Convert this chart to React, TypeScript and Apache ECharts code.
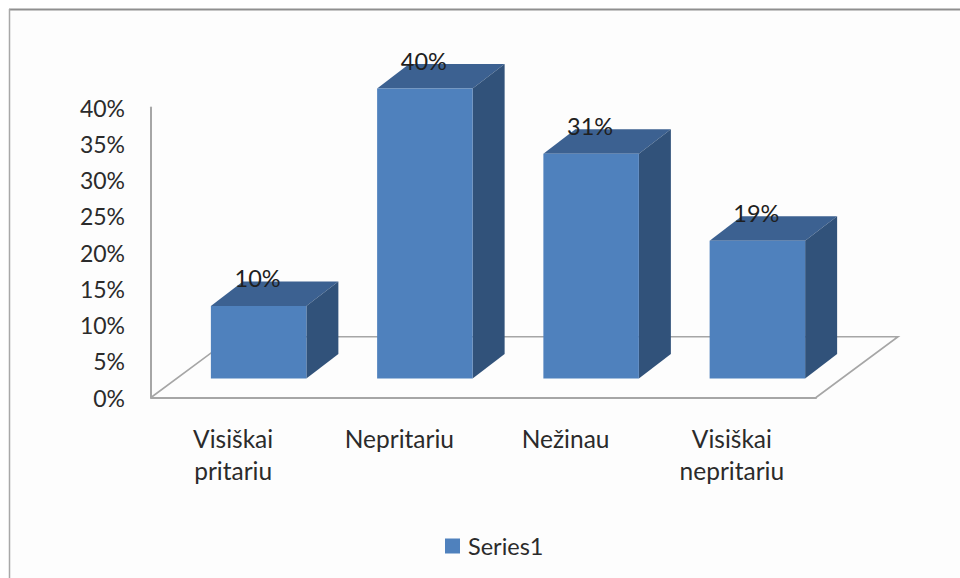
import React, { useEffect, useRef } from "react";
import * as echarts from "echarts";

const categories = ["Visiškai\npritariu", "Nepritariu", "Nežinau", "Visiškai\nnepritariu"];
const values = [10, 40, 31, 19];
const yTicks = { min: 0, max: 40, interval: 5 };
const seriesName = "Series1";

const FONT = "Lato";
const TEXT = "#2b2b2b";
const AXIS = "#a6a6a6";
const FRONT = "#4f81bd";
const TOP = "#3c6191";
const SIDE = "#31527a";

function renderBar(params: any, api: any) {
  const i = api.value(0);
  const v = api.value(1);
  const top = api.coord([i, v]);
  const base = api.coord([i, 0]);
  const w = 95.5;
  const lift = 19;
  const dx = 32;
  const dy = 24.5;
  const x0 = top[0] + 24.5 - w / 2;
  const x1 = x0 + w;
  const yT = top[1] - lift;
  const yB = base[1] - lift;
  return {
    type: "group",
    children: [
      {
        type: "polygon",
        shape: { points: [[x0, yT], [x1, yT], [x1 + dx, yT - dy], [x0 + dx, yT - dy]] },
        style: { fill: TOP },
      },
      {
        type: "polygon",
        shape: { points: [[x1, yT], [x1 + dx, yT - dy], [x1 + dx, yB - dy], [x1, yB]] },
        style: { fill: SIDE },
      },
      {
        type: "rect",
        shape: { x: x0, y: yT, width: w, height: yB - yT },
        style: { fill: FRONT },
      },
      {
        type: "text",
        x: x0 + w / 2 - 1,
        y: yT - 28,
        style: {
          text: v + "%",
          fill: "#1f1f1f",
          font: `23.5px ${FONT}`,
          align: "center",
          verticalAlign: "middle",
        },
      },
    ],
  };
}

export default function App() {
  const ref = useRef<HTMLDivElement>(null);
  useEffect(() => {
    const chart = echarts.init(ref.current!, null, { renderer: "svg" });
    chart.setOption({
      animation: false,
      backgroundColor: "#ffffff",
      textStyle: { fontFamily: FONT },
      grid: { left: 151, top: 107.5, width: 665, height: 290, containLabel: false },
      legend: {
        show: true,
        left: 440,
        top: 529,
        icon: "rect",
        itemWidth: 15,
        itemHeight: 15,
        itemGap: 6,
        textStyle: { fontFamily: FONT, fontSize: 23.5, color: TEXT, padding: [0, 0, 3, 3] },
        data: [seriesName],
      },
      xAxis: {
        type: "category",
        data: categories,
        boundaryGap: true,
        axisTick: { show: false },
        axisLine: { show: true, lineStyle: { color: AXIS, width: 2 } },
        axisLabel: {
          interval: 0,
          margin: 25,
          fontFamily: FONT,
          fontSize: 24.5,
          color: TEXT,
          lineHeight: 32,
          verticalAlign: "top",
          padding: [0, 2, 0, 0],
        },
      },
      yAxis: {
        type: "value",
        min: yTicks.min,
        max: yTicks.max,
        interval: yTicks.interval,
        splitLine: { show: false },
        axisTick: { show: false },
        axisLine: { show: true, onZero: false, lineStyle: { color: AXIS, width: 2 } },
        axisLabel: {
          margin: 26,
          fontFamily: FONT,
          fontSize: 23,
          color: TEXT,
          formatter: "{value}%",
        },
      },
      graphic: [
        {
          type: "rect",
          z: -10,
          shape: { x: 10, y: 10, width: 950, height: 568 },
          style: { fill: "#fdfdfd" },
        },
        {
          type: "line",
          z: -9,
          shape: { x1: 9, y1: 9.5, x2: 960, y2: 9.5 },
          style: { stroke: "#8f8f8f", lineWidth: 2 },
        },
        {
          type: "line",
          z: -9,
          shape: { x1: 9.5, y1: 9, x2: 9.5, y2: 578 },
          style: { stroke: "#a8a8a8", lineWidth: 1.5 },
        },
        {
          type: "polyline",
          z: -8,
          shape: { points: [[151, 397.5], [233, 336.7], [898, 336.7], [816, 397.5]] },
          style: { stroke: AXIS, lineWidth: 1.6, fill: "none" },
        },
      ],
      series: [
        {
          type: "custom",
          name: seriesName,
          coordinateSystem: "cartesian2d",
          itemStyle: { color: FRONT },
          clip: false,
          renderItem: renderBar,
          encode: { x: 0, y: 1 },
          data: values.map((v, i) => [i, v]),
        },
      ],
    });
    return () => chart.dispose();
  }, []);
  return <div ref={ref} style={{ position: "fixed", left: 0, top: 0, width: 960, height: 578 }} />;
}
